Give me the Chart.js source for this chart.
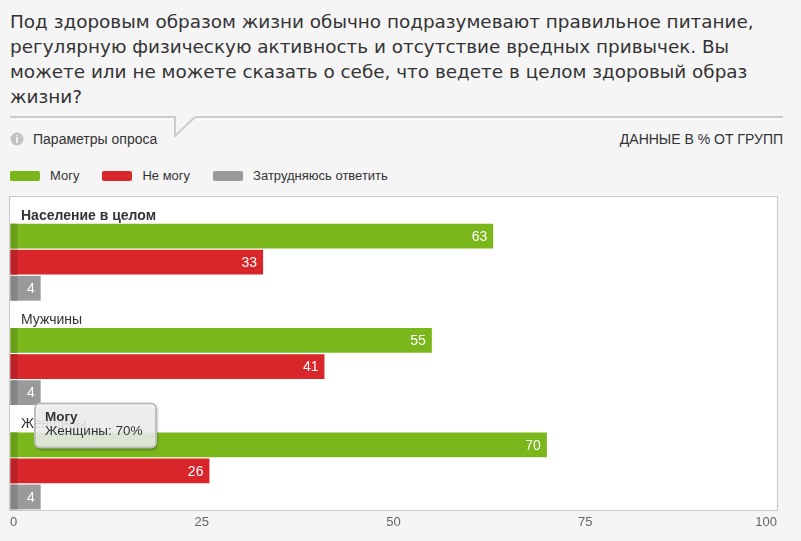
<!DOCTYPE html>
<html lang="ru">
<head>
<meta charset="utf-8">
<script src="https://cdn.jsdelivr.net/npm/chart.js@4.4.1/dist/chart.umd.min.js"></script>
<style>
  html, body { margin: 0; padding: 0; }
  body { width: 801px; height: 541px; overflow: hidden; background: #f5f5f5; position: relative; font-family: "Liberation Sans", Arial, sans-serif; color: #333; }
  #title { position: absolute; left: 10px; top: 9px; font-family: "DejaVu Sans", sans-serif; font-size: 18.4px; line-height: 25px; color: #333; white-space: nowrap; }
  #hdr { position: absolute; left: 0; top: 0; }
  #params { position: absolute; left: 33px; top: 131px; font-size: 14px; line-height: 16px; }
  #units { position: absolute; right: 18px; top: 131px; font-size: 14px; line-height: 16px; }
  #legend { position: absolute; left: 10px; top: 168px; display: flex; align-items: center; font-size: 13px; line-height: 16px; }
  .sw { width: 30px; height: 10px; border-radius: 2px; margin-right: 10px; }
  .lt { margin-right: 23px; }
  #wrap { position: absolute; left: 0; top: 190px; width: 801px; height: 351px; }
</style>
</head>
<body>
<div id="title">Под здоровым образом жизни обычно подразумевают правильное питание,<br>регулярную физическую активность и отсутствие вредных привычек. Вы<br>можете или не можете сказать о себе, что ведете в целом здоровый образ<br>жизни?</div>
<svg id="hdr" width="801" height="160">
  <polyline points="10,117 175,117 175,136 195,117 783,117" fill="none" stroke="#cccccc" stroke-width="2"/>
  <line x1="10" y1="119.5" x2="174" y2="119.5" stroke="#ffffff" stroke-width="1"/>
  <line x1="198" y1="119.5" x2="783" y2="119.5" stroke="#ffffff" stroke-width="1"/>
  <circle cx="17" cy="139" r="6.5" fill="#c2c2c2"/>
  <text x="17" y="143" text-anchor="middle" font-family="Liberation Sans, Arial" font-weight="bold" font-size="10" fill="#ffffff">i</text>
</svg>
<div id="params">Параметры опроса</div>
<div id="units">ДАННЫЕ В % ОТ ГРУПП</div>
<div id="legend"></div>
<div id="wrap"><canvas id="c" width="801" height="351"></canvas></div>
<script>
const categories = ["Население в целом", "Мужчины", "Женщины"];
const seriesNames = ["Могу", "Не могу", "Затрудняюсь ответить"];
const canValues = [63, 55, 70];
const cannotValues = [33, 41, 26];
const unsureValues = [4, 4, 4];
const xTicks = [0, 25, 50, 75, 100];
const colors = ["#7ab71b", "#d9262b", "#9a9a9a"];
const darkColors = ["#6a9d1a", "#b92328", "#858585"];
const tooltipSeries = 0;
const tooltipCategory = 2;

// HTML legend
const legendEl = document.getElementById('legend');
seriesNames.forEach((n, i) => {
  const s = document.createElement('div'); s.className = 'sw'; s.style.background = colors[i];
  const t = document.createElement('div'); t.className = 'lt'; t.textContent = n;
  legendEl.appendChild(s); legendEl.appendChild(t);
});

const FONT = '"Liberation Sans", Arial, sans-serif';

const extras = {
  id: 'extras',
  beforeDatasetsDraw(chart) {
    const { ctx, chartArea: a } = chart;
    ctx.save();
    ctx.fillStyle = '#ffffff';
    ctx.fillRect(a.left, a.top, a.right - a.left, a.bottom - a.top);
    ctx.restore();
  },
  afterDatasetsDraw(chart) {
    const { ctx, chartArea: a } = chart;
    ctx.save();
    for (let d = 1; d < chart.data.datasets.length; d++) {
      const meta = chart.getDatasetMeta(d);
      meta.data.forEach((el, i) => {
        const h = el.height;
        ctx.fillStyle = darkColors[d - 1];
        ctx.fillRect(el.base, el.y - h / 2, 7, h);
        ctx.fillStyle = '#ffffff';
        ctx.font = '14px ' + FONT;
        ctx.textAlign = 'right';
        ctx.textBaseline = 'middle';
        ctx.fillText(String(chart.data.datasets[d].data[i]), el.x - 6, el.y + 1);
      });
    }
    categories.forEach((c, i) => {
      const gm = chart.getDatasetMeta(1).data[i];
      const slotCenter = gm.y - gm.height / 2 - 13;
      ctx.fillStyle = '#333';
      ctx.font = (i === 0 ? 'bold ' : '') + '14px ' + FONT;
      ctx.textAlign = 'left';
      ctx.textBaseline = 'middle';
      ctx.fillText(c, a.left + 11, slotCenter + 5);
    });
    ctx.strokeStyle = '#c8c8c8';
    ctx.lineWidth = 1;
    ctx.strokeRect(a.left - 0.5, a.top - 0.5, a.right - a.left + 1, a.bottom - a.top + 1);
    ctx.restore();
  },
  afterDraw(chart) {
    const { ctx, chartArea: a } = chart;
    const el = chart.getDatasetMeta(tooltipSeries + 1).data[tooltipCategory];
    const bx = a.left + 25, by = el.y - el.height / 2 - 29, bw = 121, bh = 44;
    ctx.save();
    ctx.beginPath();
    ctx.roundRect(bx, by, bw, bh, 5);
    ctx.shadowColor = 'rgba(0,0,0,0.5)';
    ctx.shadowBlur = 3;
    ctx.shadowOffsetX = 1;
    ctx.shadowOffsetY = 2;
    ctx.fillStyle = 'rgba(255,255,255,0.82)';
    ctx.fill();
    ctx.shadowColor = 'transparent';
    ctx.strokeStyle = '#bdbdbd';
    ctx.lineWidth = 2;
    ctx.stroke();
    ctx.fillStyle = '#333';
    ctx.textAlign = 'left';
    ctx.textBaseline = 'middle';
    ctx.font = 'bold 13.5px ' + FONT;
    ctx.fillText(seriesNames[tooltipSeries], bx + 10, by + 14);
    ctx.font = '13.5px ' + FONT;
    const vals = [canValues, cannotValues, unsureValues][tooltipSeries];
    ctx.fillText(categories[tooltipCategory] + ': ' + vals[tooltipCategory] + '%', bx + 10, by + 28);
    ctx.restore();
  }
};

new Chart(document.getElementById('c'), {
  type: 'bar',
  data: {
    labels: categories,
    datasets: [
      { label: '', data: categories.map(() => null), backgroundColor: 'transparent' },
      { label: seriesNames[0], data: canValues, backgroundColor: colors[0] },
      { label: seriesNames[1], data: cannotValues, backgroundColor: colors[1] },
      { label: seriesNames[2], data: unsureValues, backgroundColor: colors[2] }
    ]
  },
  options: {
    indexAxis: 'y',
    responsive: false,
    animation: false,
    events: [],
    categoryPercentage: 1,
    barPercentage: 0.95,
    layout: { padding: { left: 10, right: 24, top: 7, bottom: 0 } },
    plugins: { legend: { display: false }, tooltip: { enabled: false }, title: { display: false } },
    scales: {
      y: { display: false },
      x: {
        min: 0, max: 100,
        afterBuildTicks(scale) { scale.ticks = xTicks.map(v => ({ value: v })); },
        afterFit(scale) { scale.height = 31; },
        border: { display: false },
        grid: {
          drawTicks: false,
          color: ctx => (ctx.tick && (ctx.tick.value === 0 || ctx.tick.value === 100)) ? 'transparent' : '#c8c8c8',
          tickBorderDash: [1, 2]
        },
        ticks: {
          align: 'inner',
          padding: 5,
          color: '#666',
          font: { family: FONT, size: 13 }
        }
      }
    }
  },
  plugins: [extras]
});
</script>
</body>
</html>
